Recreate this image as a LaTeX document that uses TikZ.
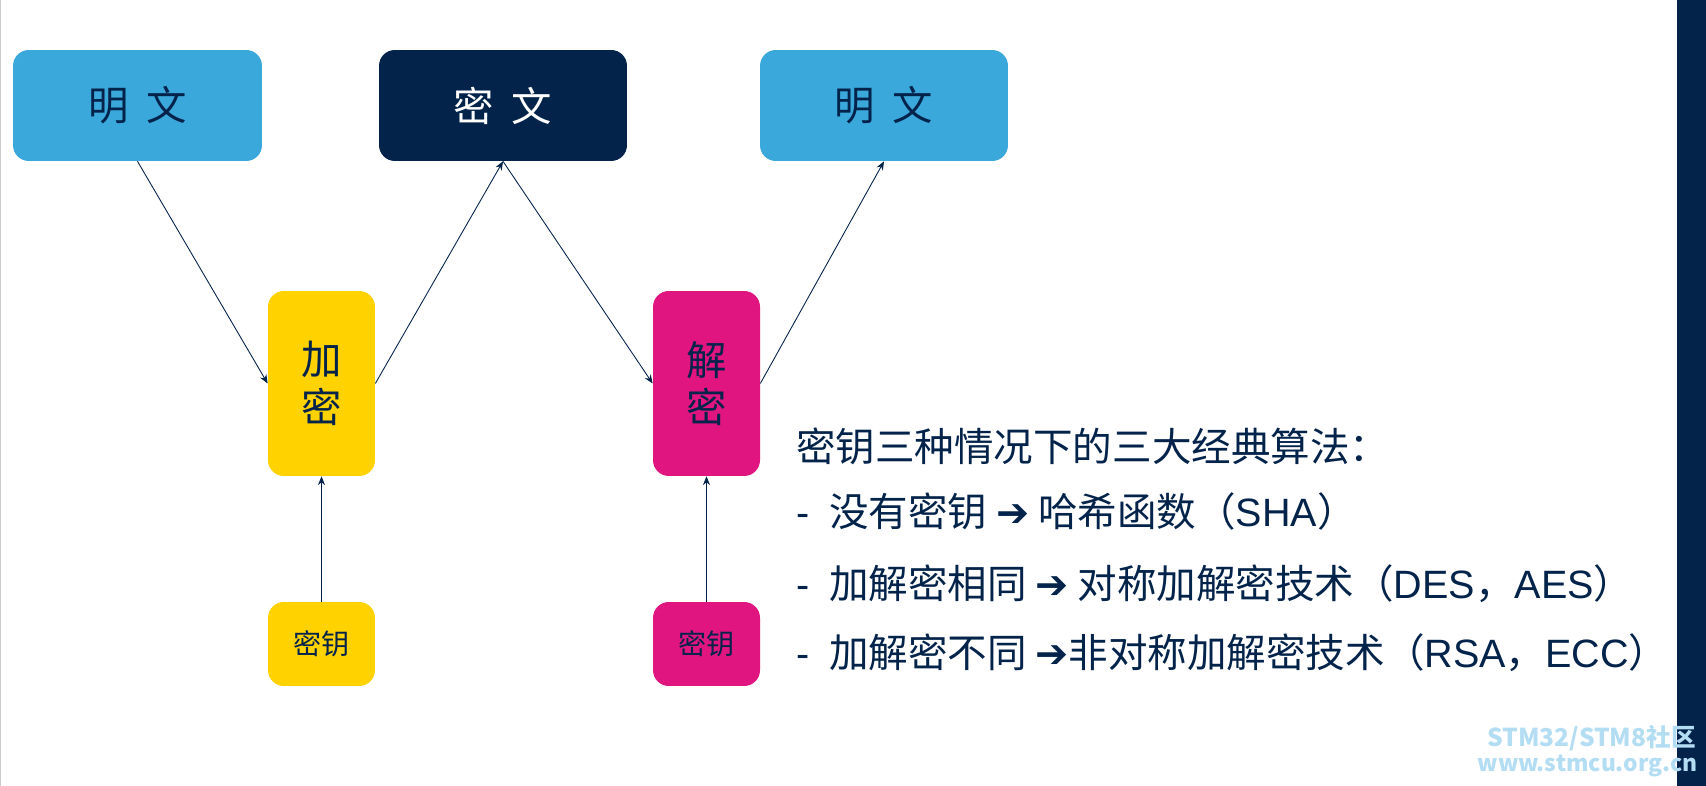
\documentclass[tikz,border=0pt]{standalone}
\usepackage{fontspec}
\setmainfont{Noto Sans CJK SC}
\newfontfamily\symfont{DejaVu Sans}
\newfontfamily\latfont{Liberation Sans}
\newcommand{\lat}[1]{{\latfont #1}}
\usetikzlibrary{arrows.meta,positioning}
\definecolor{stblue}{HTML}{3AA8DB}
\definecolor{stnavy}{HTML}{03234B}
\definecolor{styellow}{HTML}{FFD200}
\definecolor{stpink}{HTML}{E0157F}
\definecolor{wmark}{HTML}{B3DDF3}
\tikzset{
  box/.style={rounded corners=9pt, inner sep=0pt, text=stnavy},
  link/.style={-{Stealth[length=5pt,width=4pt]}, stnavy, line width=0.5pt},
  info/.style={anchor=west, text=stnavy, font=\fontsize{22.5}{24}\selectfont}
}
\begin{document}
\begin{tikzpicture}[x=0.02cm,y=-0.02cm]
\useasboundingbox (0,0) rectangle (1706,786);
\fill[white] (0,0) rectangle (1706,786);
\fill[stnavy] (1677,0) rectangle (1706,786);
\draw[gray!40] (0.5,0) -- (0.5,786);

% plain / cipher / plain
\node[box, fill=stblue, minimum width=4.98cm, minimum height=2.22cm, font=\fontsize{23}{24}\selectfont] (plainA) at (137.5,105.5) {明\;\,文};
\node[box, fill=stnavy, text=white, minimum width=4.96cm, minimum height=2.22cm, font=\fontsize{23}{24}\selectfont] (cipher) at (503,105.5) {密\;\,文};
\node[box, fill=stblue, minimum width=4.96cm, minimum height=2.22cm, font=\fontsize{23}{24}\selectfont] (plainB) at (884,105.5) {明\;\,文};

% encrypt / decrypt
\node[box, fill=styellow, minimum width=2.14cm, minimum height=3.7cm, align=center, font=\fontsize{23}{27}\selectfont] (enc) at (321.5,383.5) {加\\密};
\node[box, fill=stpink, minimum width=2.14cm, minimum height=3.7cm, align=center, font=\fontsize{23}{27}\selectfont] (dec) at (706.5,383.5) {解\\密};

% keys
\node[box, fill=styellow, minimum width=2.14cm, minimum height=1.68cm, font=\fontsize{16}{18}\selectfont] (keyA) at (321.5,644) {密钥};
\node[box, fill=stpink, minimum width=2.14cm, minimum height=1.68cm, font=\fontsize{16}{18}\selectfont] (keyB) at (706.5,644) {密钥};

\draw[link] (plainA.south) -- (enc.west);
\draw[link] (enc.east) -- (cipher.south);
\draw[link] (cipher.south) -- (dec.west);
\draw[link] (dec.east) -- (plainB.south);
\draw[link] (keyA) -- (enc);
\draw[link] (keyB) -- (dec);

% algorithms
\node[info] (title) at (790,446) {密钥三种情况下的三大经典算法：};
\node[info] (lineA) at (790,511) {\lat{-}\enspace 没有密钥 {\symfont\bfseries ➔} 哈希函数（\lat{SHA}）};
\node[info] (lineB) at (790,584) {\lat{-}\enspace 加解密相同 {\symfont\bfseries ➔} 对称加解密技术（\lat{DES}，\lat{AES}）};
\node[info] (lineC) at (790,653) {\lat{-}\enspace 加解密不同 {\symfont\bfseries ➔}非对称加解密技术（\lat{RSA}，\lat{ECC}）};

% watermark
\node[anchor=east, text=wmark, font=\bfseries\fontsize{14}{14}\selectfont, inner sep=0pt] (wmA) at (1696,738) {STM32/STM8社区};
\node[anchor=east, text=wmark, font=\bfseries\fontsize{13}{13}\selectfont, inner sep=0pt] (wmB) at (1698,766) {www.stmcu.org.cn};
\end{tikzpicture}
\end{document}
